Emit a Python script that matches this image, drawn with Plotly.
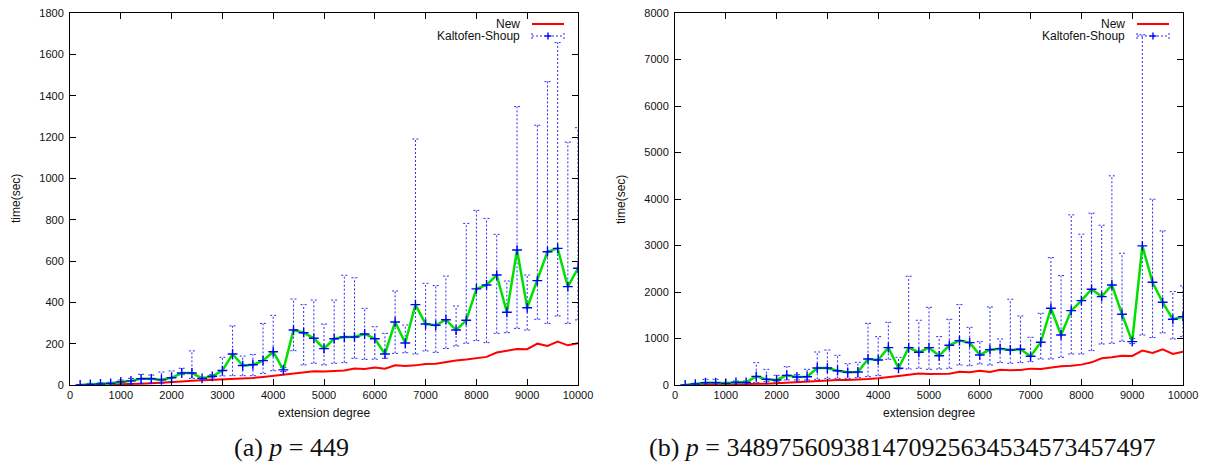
import plotly.graph_objects as go

# ---------------- data ----------------
degree = [200, 400, 600, 800, 1000, 1200, 1400, 1600, 1800, 2000,
          2200, 2400, 2600, 2800, 3000, 3200, 3400, 3600, 3800, 4000,
          4200, 4400, 4600, 4800, 5000, 5200, 5400, 5600, 5800, 6000,
          6200, 6400, 6600, 6800, 7000, 7200, 7400, 7600, 7800, 8000,
          8200, 8400, 8600, 8800, 9000, 9200, 9400, 9600, 9800, 10000]

# (a) p = 449
new_a = [0, 0.5, 1, 1.5, 3, 4, 6, 8, 10, 14,
         17, 20, 22, 26, 29, 31, 32, 34, 39, 44,
         50, 55, 62, 66, 65, 68, 70, 80, 77, 85,
         79, 95, 92, 95, 102, 103, 111, 119, 123, 131,
         136, 157, 165, 174, 173, 200, 189, 210, 192, 202]
ks_mean_a = [0, 3, 5, 8, 15, 20, 30, 30, 25, 35,
             58, 58, 32, 42, 70, 150, 94, 98, 118, 161,
             73, 266, 253, 226, 176, 224, 232, 232, 247, 224,
             150, 305, 203, 389, 295, 289, 316, 266, 313, 465,
             484, 532, 352, 653, 374, 505, 645, 661, 476, 565]
ks_low_a = [0, 0, 1, 2, 3, 6, 8, 8, 9, 16,
            50, 32, 28, 35, 44, 45, 45, 45, 56, 69,
            65, 166, 97, 105, 97, 105, 108, 129, 124, 125,
            129, 153, 156, 150, 165, 158, 177, 189, 202, 215,
            205, 250, 253, 274, 266, 318, 298, 334, 298, 315]
ks_high_a = [2, 8, 11, 13, 24, 32, 52, 48, 63, 68,
             81, 165, 38, 50, 134, 286, 140, 148, 298, 337,
             85, 416, 389, 411, 295, 411, 531, 519, 371, 282,
             250, 455, 290, 1190, 492, 481, 527, 382, 782, 845,
             806, 729, 503, 1347, 532, 1257, 1468, 1657, 1175, 1245]

# (b) p = 348975609381470925634534573457497
new_b = [0, 2, 4, 6, 8, 12, 16, 22, 28, 36,
         50, 60, 70, 85, 100, 105, 108, 112, 128, 143,
         175, 195, 220, 245, 237, 237, 244, 287, 273, 308,
         280, 330, 316, 323, 352, 344, 380, 402, 416, 438,
         488, 574, 595, 631, 624, 739, 689, 768, 667, 717]
ks_mean_b = [0, 20, 50, 50, 36, 57, 57, 186, 122, 108,
             208, 172, 179, 366, 366, 308, 273, 280, 560, 538,
             803, 359, 803, 703, 803, 628, 854, 954, 911, 646,
             760, 782, 753, 768, 617, 918, 1650, 1076, 1600, 1815,
             2059, 1901, 2152, 1521, 933, 2991, 2209, 1779, 1413, 1471]
ks_low_b = [0, 0, 36, 36, 20, 36, 36, 50, 72, 72,
            108, 108, 108, 122, 143, 143, 143, 158, 179, 201,
            552, 344, 344, 359, 337, 344, 359, 430, 416, 452,
            430, 481, 466, 481, 502, 560, 560, 595, 667, 667,
            739, 882, 897, 940, 890, 1075, 1020, 1120, 990, 1040]
ks_high_b = [5, 36, 122, 122, 57, 86, 86, 481, 337, 208,
             395, 222, 337, 710, 753, 638, 459, 488, 1327, 1040,
             1349, 595, 2339, 1392, 1671, 1040, 1413, 1729, 1241, 933,
             1679, 990, 1844, 1485, 1026, 1542, 2740, 2353, 3659, 3243,
             3695, 3436, 4498, 2834, 1000, 7532, 3996, 3314, 2009, 2131]

x_ticks = [0, 1000, 2000, 3000, 4000, 5000, 6000, 7000, 8000, 9000, 10000]
y_ticks_a = [0, 200, 400, 600, 800, 1000, 1200, 1400, 1600, 1800]
y_ticks_b = [0, 1000, 2000, 3000, 4000, 5000, 6000, 7000, 8000]
captions = ["(a) <i>p</i> = 449", "(b) <i>p</i> = 348975609381470925634534573457497"]
legend_names = ["New", "Kaltofen-Shoup"]

# ---------------- figure ----------------
W, H = 1205, 464
FONT = "Liberation Sans, Arial, sans-serif"
SERIF = "Liberation Serif, Times New Roman, serif"
CAP = 60  # half width of error bar caps (x units)


def px(x):
    return x / W


def py(y):
    return 1 - y / H


fig = go.Figure()


def add_panel(xa, ya, new, mean, low, high):
    ex, ey = [], []
    for x, lo, hi in zip(degree, low, high):
        ex += [x, x, None, x - CAP, x + CAP, None, x - CAP, x + CAP, None]
        ey += [lo, hi, None, hi, hi, None, lo, lo, None]
    fig.add_trace(go.Scatter(x=degree, y=new, mode="lines", xaxis=xa, yaxis=ya,
                             line=dict(color="#ff0000", width=2), showlegend=False))
    fig.add_trace(go.Scatter(x=ex, y=ey, mode="lines", xaxis=xa, yaxis=ya,
                             line=dict(color="#2a2aff", width=1, dash="2px,2px"),
                             showlegend=False, connectgaps=False))
    fig.add_trace(go.Scatter(x=degree, y=mean, mode="lines", xaxis=xa, yaxis=ya,
                             line=dict(color="#00e000", width=2.5), showlegend=False))
    fig.add_trace(go.Scatter(x=degree, y=mean, mode="markers", xaxis=xa, yaxis=ya,
                             marker=dict(symbol="cross-thin", size=7,
                                         line=dict(color="#0000ff", width=1.4)),
                             showlegend=False))


add_panel("x", "y", new_a, ks_mean_a, ks_low_a, ks_high_a)
add_panel("x2", "y2", new_b, ks_mean_b, ks_low_b, ks_high_b)

top, bottom = 13, 385
panels = [(70, 578), (675, 1183)]

axis_common = dict(showline=True, linecolor="black", linewidth=1, mirror="allticks",
                   ticks="inside", ticklen=6, tickwidth=1, tickcolor="black",
                   showgrid=False, zeroline=False, automargin=False,
                   tickfont=dict(family=FONT, size=11, color="#111"))

x_text = [str(v) for v in x_ticks]

fig.update_layout(
    width=W, height=H, margin=dict(l=0, r=0, t=0, b=0, autoexpand=False),
    paper_bgcolor="white", plot_bgcolor="white", showlegend=False,
    xaxis=dict(domain=[px(panels[0][0]), px(panels[0][1])], range=[0, 10000],
               tickvals=x_ticks, ticktext=x_text, anchor="y", **axis_common),
    yaxis=dict(domain=[py(bottom), py(top)], range=[0, 1800],
               tickvals=y_ticks_a, anchor="x", ticklabelstandoff=3, **axis_common),
    xaxis2=dict(domain=[px(panels[1][0]), px(panels[1][1])], range=[0, 10000],
                tickvals=x_ticks, ticktext=x_text, anchor="y2", **axis_common),
    yaxis2=dict(domain=[py(bottom), py(top)], range=[0, 8000],
                tickvals=y_ticks_b, anchor="x2", ticklabelstandoff=3, **axis_common),
)

annotations = []
shapes = []
for i, (l, r) in enumerate(panels):
    cx = (l + r) / 2
    # axis titles
    annotations.append(dict(x=px(cx), y=py(413), xref="paper", yref="paper",
                            text="extension degree", showarrow=False,
                            font=dict(family=FONT, size=12, color="#111"),
                            xanchor="center", yanchor="middle"))
    annotations.append(dict(x=px(l - 54), y=py((top + bottom) / 2), xref="paper", yref="paper",
                            text="time(sec)", showarrow=False, textangle=-90,
                            font=dict(family=FONT, size=12, color="#111"),
                            xanchor="center", yanchor="middle"))
    # legend
    off = l - 70
    tx = 522 + off
    for j, (name, yy) in enumerate(zip(legend_names, [24, 36])):
        annotations.append(dict(x=px(tx), y=py(yy), xref="paper", yref="paper",
                                text=name, showarrow=False,
                                font=dict(family=FONT, size=12, color="#111"),
                                xanchor="right", yanchor="middle"))
    x0, x1 = 532 + off, 564 + off
    shapes.append(dict(type="line", xref="paper", yref="paper",
                       x0=px(x0), x1=px(x1), y0=py(24), y1=py(24),
                       line=dict(color="#ff0000", width=2)))
    shapes.append(dict(type="line", xref="paper", yref="paper",
                       x0=px(x0), x1=px(x1), y0=py(36), y1=py(36),
                       line=dict(color="#2a2aff", width=1, dash="2px,2px")))
    for xe in (x0, x1):
        shapes.append(dict(type="line", xref="paper", yref="paper",
                           x0=px(xe), x1=px(xe), y0=py(33), y1=py(39),
                           line=dict(color="#2a2aff", width=1, dash="2px,2px")))
    xm = (x0 + x1) / 2
    shapes.append(dict(type="line", xref="paper", yref="paper",
                       x0=px(xm - 3.5), x1=px(xm + 3.5), y0=py(36), y1=py(36),
                       line=dict(color="#0000ff", width=1.4)))
    shapes.append(dict(type="line", xref="paper", yref="paper",
                       x0=px(xm), x1=px(xm), y0=py(32.5), y1=py(39.5),
                       line=dict(color="#0000ff", width=1.4)))

# captions
for cx, cap in zip([291, 902], captions):
    annotations.append(dict(x=px(cx), y=py(447), xref="paper", yref="paper",
                            text=cap, showarrow=False,
                            font=dict(family=SERIF, size=26, color="#111"),
                            xanchor="center", yanchor="middle"))

fig.update_layout(annotations=annotations, shapes=shapes)
fig.write_html("out.html")
